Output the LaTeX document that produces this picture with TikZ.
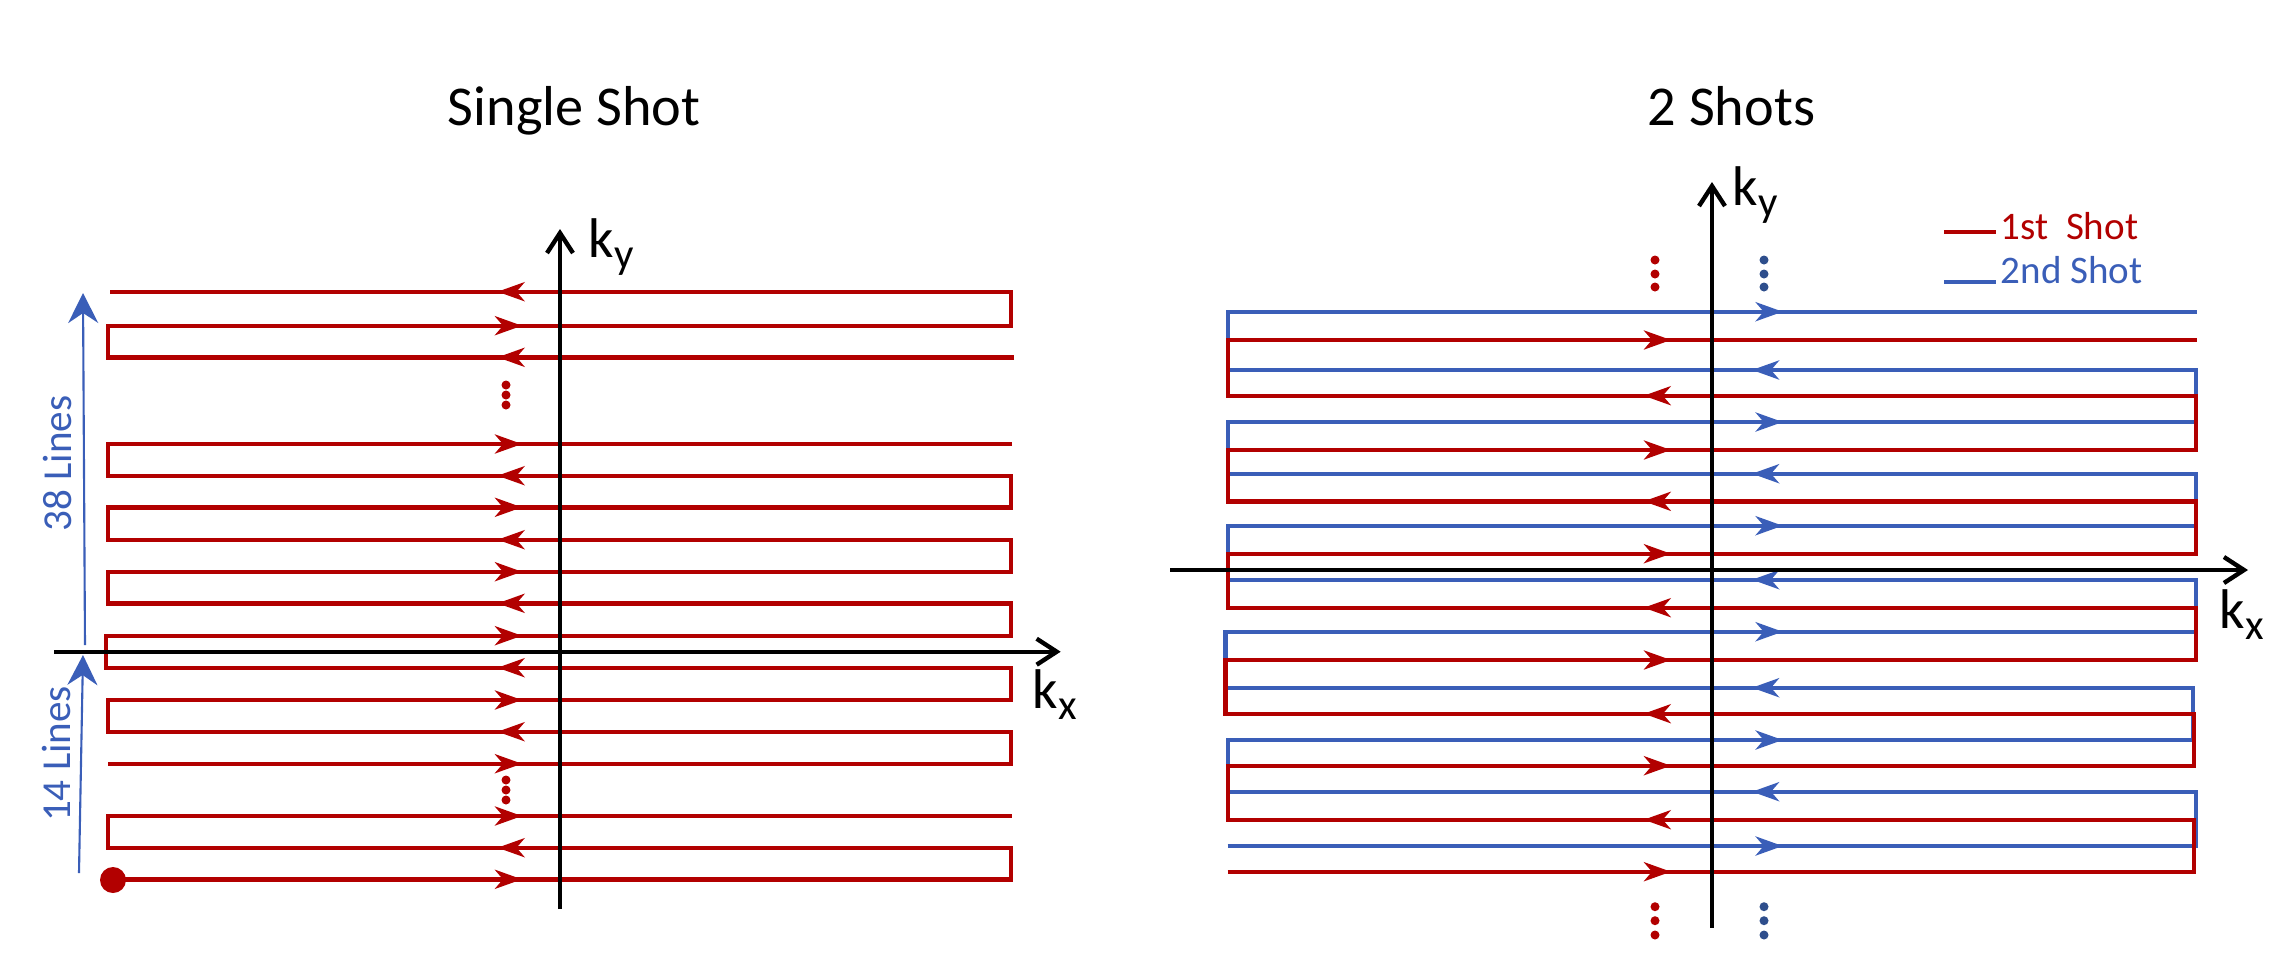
\documentclass[tikz,border=0pt]{standalone}
\usepackage{fontspec}
\setmainfont{Carlito}
\usetikzlibrary{arrows.meta}
\definecolor{myred}{RGB}{178,0,0}
\definecolor{myblue}{RGB}{58,94,184}
\definecolor{mynavy}{RGB}{46,78,140}
\newcommand\klab[2]{#1\raisebox{-0.11cm}{\fontsize{12.2}{14}\selectfont #2}}
\begin{document}
\begin{tikzpicture}[x=0.01cm,y=-0.01cm,
  trace/.style={line width=1.25pt, line join=miter},
  redtrace/.style={trace, draw=myred},
  bluetrace/.style={trace, draw=myblue},
  axisline/.style={line width=1.25pt, draw=black, -{Straight Barb[length=0.2cm,width=0.26cm]}},
  midtip/.style={-{Stealth[length=0.27cm,width=0.19cm,inset=0.08cm]}},
  bluearrow/.style={draw=myblue, line width=0.6pt, -{Stealth[length=0.3cm,width=0.3cm,inset=0.1cm]}},
  titlefont/.style={font=\fontsize{16}{18}\selectfont},
  kfont/.style={font=\fontsize{15.9}{18}\selectfont, inner sep=0pt, anchor=base west},
  legfont/.style={font=\fontsize{11.1}{13}\selectfont, inner sep=0pt, anchor=base west},
  sidefont/.style={font=\fontsize{11.7}{14}\selectfont, inner sep=0pt, text=myblue, rotate=90, anchor=base}
]
\useasboundingbox (0,0) rectangle (2290,972);

% ---------------- titles
\node[titlefont, anchor=base] (title1) at (574,125) {Single Shot};
\node[titlefont, anchor=base] (title2) at (1731.5,125) {2 Shots};

% ---------------- left panel: single shot trajectory
\draw[redtrace] (1014,357.3) -- (108,357.3) -- (108,325.7) -- (1011,325.7) -- (1011,291.7) -- (110,291.7);
\draw[redtrace] (1012,444) -- (108,444) -- (108,475.7) -- (1011,475.7) -- (1011,507.3) -- (108,507.3)
  -- (108,539.7) -- (1011,539.7) -- (1011,571.7) -- (108,571.7) -- (108,603.3) -- (1011,603.3)
  -- (1011,635.7) -- (106,635.7) -- (106,667.7) -- (1011,667.7) -- (1011,700) -- (108,700)
  -- (108,731.7) -- (1011,731.7) -- (1011,763.7) -- (108,763.7);
\draw[redtrace] (113,879.3) -- (1011,879.3) -- (1011,847.7) -- (108,847.7) -- (108,816) -- (1012,816);
\foreach \yy in {325.7,444,507.3,571.7,635.7,700,763.7,816,879.3}
  \draw[redtrace, midtip] (480,\yy) -- (522,\yy);
\foreach \yy in {291.7,357.3,475.7,539.7,603.3,667.7,731.7,847.7}
  \draw[redtrace, midtip] (540,\yy) -- (497.5,\yy);
\fill[myred] (113,880) circle[radius=13];
\foreach \yy in {385,395,405,780,790,800}
  \fill[myred] (506,\yy) circle[radius=4.5];

% axes left
\draw[axisline] (560,909) -- (560,229);
\draw[axisline] (54,651.7) -- (1060.7,651.7);
\node[kfont] (ky1) at (588,257) {\klab{k}{y}};
\node[kfont] (kx1) at (1032,708) {\klab{k}{x}};

% line counters
\draw[bluearrow] (85,645) -- (83,293);
\draw[bluearrow] (79,873) -- (83,655);
\node[sidefont] (l38) at (71.6,463.4) {38 Lines};
\node[sidefont] (l14) at (70.8,754) {14 Lines};

% ---------------- right panel: two shots
\draw[bluetrace] (1227.7,846) -- (2196,846) -- (2196,791.7) -- (1227.7,791.7) -- (1227.7,740)
  -- (2192.7,740) -- (2192.7,687.7) -- (1225.4,687.7) -- (1225.4,631.7) -- (2196,631.7)
  -- (2196,579.7) -- (1227.7,579.7) -- (1227.7,525.7) -- (2196,525.7) -- (2196,473.7)
  -- (1227.7,473.7) -- (1227.7,422) -- (2196,422) -- (2196,370) -- (1227.7,370)
  -- (1227.7,311.7) -- (2197,311.7);
\draw[redtrace] (1227.7,871.7) -- (2194,871.7) -- (2194,819.7) -- (1227.7,819.7) -- (1227.7,765.7)
  -- (2194,765.7) -- (2194,713.7) -- (1225.4,713.7) -- (1225.4,660) -- (2196,660)
  -- (2196,607.7) -- (1227.7,607.7) -- (1227.7,553.7) -- (2196,553.7) -- (2196,501.3)
  -- (1227.7,501.3) -- (1227.7,450) -- (2196,450) -- (2196,395.7) -- (1227.7,395.7)
  -- (1227.7,340) -- (2197,340);
\foreach \yy in {311.7,422,525.7,631.7,740,846}
  \draw[bluetrace, midtip] (1740,\yy) -- (1782.7,\yy);
\foreach \yy in {370,473.7,579.7,687.7,791.7}
  \draw[bluetrace, midtip] (1795,\yy) -- (1752,\yy);
\foreach \yy in {340,450,553.7,660,765.7,871.7}
  \draw[redtrace, midtip] (1630,\yy) -- (1671,\yy);
\foreach \yy in {395.7,501.3,607.7,713.7,819.7}
  \draw[redtrace, midtip] (1685,\yy) -- (1643.7,\yy);
\foreach \yy in {260,274,287,906.7,920.7,935}{
  \fill[myred] (1655,\yy) circle[radius=4.5];
  \fill[mynavy] (1764,\yy) circle[radius=4.5];
}

% axes right
\draw[axisline] (1712,927.7) -- (1712,182);
\draw[axisline] (1170,570) -- (2248,570);
\node[kfont] (ky2) at (1732,205) {\klab{k}{y}};
\node[kfont] (kx2) at (2219,628) {\klab{k}{x}};

% legend
\draw[redtrace] (1944,231.7) -- (1995.7,231.7);
\node[legfont, text=myred] (leg1) at (2000,239.3) {1st\ \ Shot};
\draw[bluetrace] (1944,281.7) -- (1995.7,281.7);
\node[legfont, text=myblue] (leg2) at (2000,283.3) {2nd Shot};
\end{tikzpicture}
\end{document}
